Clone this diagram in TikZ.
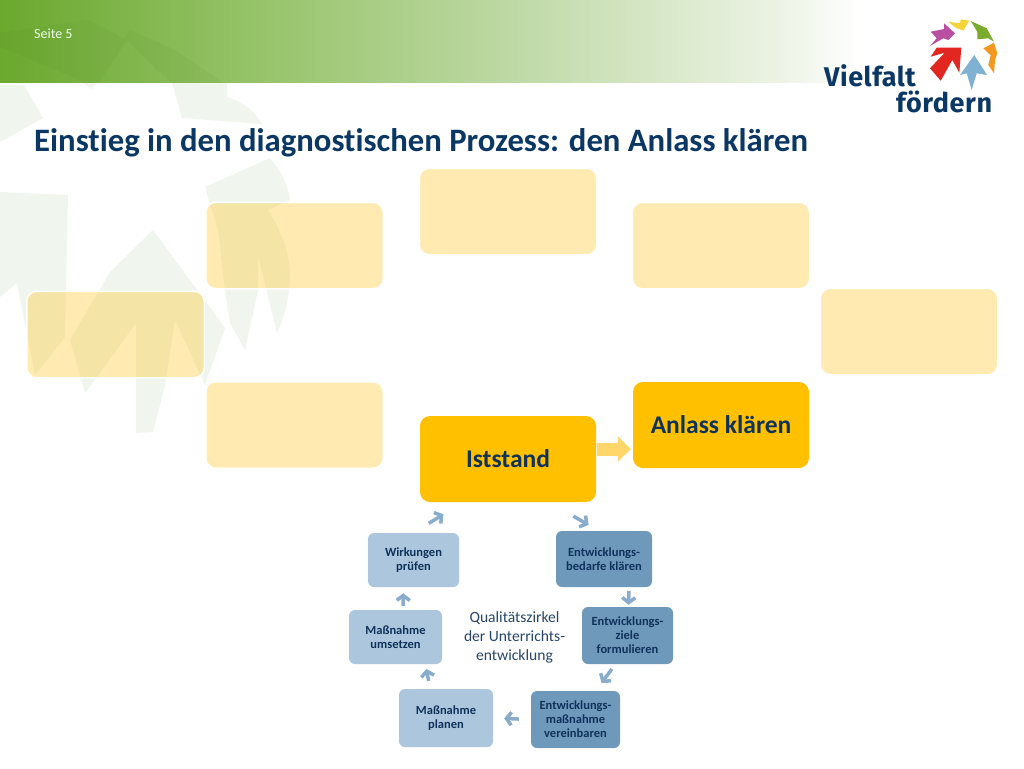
\documentclass[tikz,border=0pt]{standalone}
\usepackage{fontspec}
\setmainfont{Carlito}[Ligatures=NoCommon]
\newfontfamily\logofont[LetterSpace=2]{Fira Sans}
\usetikzlibrary{arrows.meta,calc}
\definecolor{wm}{RGB}{240,245,238}
\definecolor{navy}{RGB}{11,55,100}
\definecolor{amber}{RGB}{255,192,0}
\definecolor{dkblue}{RGB}{111,153,187}
\definecolor{ltblue}{RGB}{172,198,222}
\definecolor{arrowblue}{RGB}{138,172,204}
\definecolor{txt}{RGB}{15,50,90}
\definecolor{hA}{RGB}{107,168,46}
\definecolor{hB}{RGB}{150,195,105}
\definecolor{hC}{RGB}{190,217,165}
\definecolor{hD}{RGB}{236,243,228}
\definecolor{hdark}{RGB}{60,110,20}
\definecolor{lgred}{RGB}{225,39,31}
\definecolor{lgmag}{RGB}{184,79,160}
\definecolor{lgyel}{RGB}{243,213,58}
\definecolor{lggrn}{RGB}{122,171,45}
\definecolor{lgorg}{RGB}{243,154,30}
\definecolor{lgblu}{RGB}{127,178,210}
\definecolor{flowc}{RGB}{255,214,105}
\pgfdeclarehorizontalshading{headerfade}{100bp}{
  color(0bp)=(hA);
  color(25bp)=(hA);
  color(39.9bp)=(hB);
  color(54.8bp)=(hC);
  color(70.3bp)=(hD);
  color(75bp)=(white);
  color(100bp)=(white)}
\tikzset{
  x=1pt,y=-1pt,
  paleb/.style={rounded corners=10pt,minimum width=177.5pt,minimum height=86.5pt,inner sep=0pt,
    fill=amber,fill opacity=.3,draw=white,draw opacity=1,line width=1.5pt},
  mainb/.style={rounded corners=10pt,minimum width=176pt,minimum height=86pt,inner sep=0pt,
    fill=amber,text=txt,font=\fontsize{25.5}{30}\selectfont\bfseries},
  cyc/.style={rounded corners=6pt,inner sep=0pt,align=center,text=txt,
    font=\fontsize{12.5}{14}\selectfont\bfseries},
  dk/.style={cyc,fill=dkblue},
  lt/.style={cyc,fill=ltblue},
  cycarrow/.style={draw=arrowblue,line width=3.5pt,-{Straight Barb[length=5pt,width=13pt,line width=3.5pt]}},
  flowarrow/.style={draw=flowc,line width=13pt,-{Triangle[length=13pt,width=25pt]}},
  logotxt/.style={inner sep=0pt,anchor=base west,text=navy,font=\fontsize{27}{30}\logofont\bfseries}
}
\begin{document}
\begin{tikzpicture}
\useasboundingbox (0,0) rectangle (1024,768);
\fill[white] (0,0) rectangle (1024,768);
% watermark
\fill[wm] (0,85)--(24,85)--(43,118)--(0,142)--cycle;
\fill[wm] (83,83)--(97,83)--(92,89)--cycle;
\fill[wm] (172,83)--(227,83)--(227,97) .. controls (245,103) and (255,112) .. (262,124)--(182,118)--cycle;
\fill[wm] (205,187)--(270,158) .. controls (282,172) and (288,185) .. (290,200)--(268,210) .. controls (282,232) and (290,255) .. (290,275) .. controls (290,295) and (285,315) .. (277,333)--(258,255)--(258,290)--(245,350)--(230,323)--(225,290)--(218,230)--cycle;
\fill[wm] (153,230)--(225,328)--(205,385)--(175,320)--(165,385)--(153,432)--(136,433)--(136,323)--(97,377)--(85,393)--(70,340)--(110,272)--cycle;
\fill[wm] (0,192)--(68,195)--(65,337)--(35,375)--(17,283)--(0,297)--cycle;
% header
\fill[shading=headerfade] (0,0) rectangle (860,82);
\begin{scope}
\clip (0,0) rectangle (1024,82);
\fill[hdark,opacity=.06] (0,33)--(88,20)--(127,40)--(95,88)--(75,78)--(0,47)--cycle;
\fill[hdark,opacity=.06] (130,30)--(175,50)--(225,84)--(172,84)--(125,38)--cycle;
\end{scope}
\node[inner sep=0pt,anchor=base west,text=white!92!green,font=\fontsize{14}{16}\selectfont] (seite) at (34,39) {Seite 5};
\node[inner sep=0pt,anchor=base west,text=navy,font=\fontsize{32.7}{36}\selectfont\bfseries] (title) at (34,151) {Einstieg in den diagnostischen Prozess: den Anlass klären};
% logo
\fill[lgred] (930.7,56.7)--(936.7,47.7)--(961.3,47.7)--(959.3,72.7)--(952.3,60)--(940.7,80.7)--(930,68.3)--(944.7,52.7)--cycle;
\fill[lgblu] (974.3,55)--(960,75)--(966.7,73.3)--(971.7,90)--(976.7,73.3)--(987,75)--cycle;
\fill[lgmag] (930.7,31.7)--(944,29)--(944,23.3)--(955,33.3)--(948.3,40)--(943.3,38.3)--(930,46)--(936.7,38.3)--cycle;
\fill[lgyel] (948.3,21.7)--(960,23.3)--(960.7,19.3)--(969.3,20.7)--(963.3,30.7)--(955,27.3)--cycle;
\fill[lggrn] (970.7,21)--(986.7,28.3)--(994,41.7)--(988.3,38.3)--(977.3,39.3)--(977.3,31.7)--cycle;
\fill[lgorg] (983.3,48.3)--(994,42.7)--(997.3,53.3)--(995,60)--(994,73.3)--(988.3,65)--(990.7,55)--(988.3,53.3)--cycle;
\node[logotxt] (vielfalt) at (824,86) {Vielfalt};
\node[logotxt] (foerdern) at (896,112) {fördern};
% pale boxes
\node[paleb] (p1) at (508,211.5) {};
\node[paleb] (p2) at (294.5,245.5) {};
\node[paleb] (p3) at (721,245.5) {};
\node[paleb] (p4) at (115.5,334.5) {};
\node[paleb] (p5) at (909,331.5) {};
\node[paleb] (p6) at (294.5,425) {};
% main boxes
\node[mainb] (ist) at (508,459) {Iststand};
\node[mainb] (anl) at (721,425) {Anlass klären};
% cycle boxes
\node[dk,minimum width=96pt,minimum height=56pt] (bed) at (604,559) {Entwicklungs-\\bedarfe klären};
\node[dk,minimum width=91pt,minimum height=57pt] (zie) at (627.5,635.5) {Entwicklungs-\\ziele\\formulieren};
\node[dk,minimum width=89pt,minimum height=57pt] (ver) at (575.5,719.5) {Entwicklungs-\\maßnahme\\vereinbaren};
\node[lt,minimum width=94pt,minimum height=58pt] (pla) at (446,718) {Maßnahme\\planen};
\node[lt,minimum width=93pt,minimum height=54pt] (ums) at (395.5,637) {Maßnahme\\umsetzen};
\node[lt,minimum width=91pt,minimum height=54pt] (wir) at (413.5,560) {Wirkungen\\prüfen};
\node[inner sep=0pt,align=center,text=txt!90!white,font=\fontsize{15.6}{19}\selectfont] (center) at (514.5,637) {Qualitätszirkel\\der Unterrichts-\\entwicklung};
% arrows
\draw[flowarrow] ($(ist.east)+(1,-10)$) -- ($(anl.west)+(-2,24)$);
\draw[cycarrow,shorten <=28pt,shorten >=12pt] ($(ist.south)+(41,0)$) -- ($(bed.north)+(-5,0)$);
\draw[cycarrow,shorten <=4pt,shorten >=2pt] ($(bed.south)+(25,0)$) -- ($(zie.north)+(1,0)$);
\draw[cycarrow,shorten <=6pt,shorten >=10pt] ($(zie.south)+(-12,0)$) -- ($(ver.north)+(20,0)$);
\draw[cycarrow,shorten <=12pt,shorten >=11pt] (ver.west) -- (pla.east);
\draw[cycarrow,shorten <=8pt,shorten >=5pt] ($(pla.north)+(-16,0)$) -- ($(ums.south)+(30,0)$);
\draw[cycarrow,shorten <=4pt,shorten >=6pt] ($(ums.north)+(7.5,0)$) -- ($(wir.south)+(-10,0)$);
\draw[cycarrow,shorten <=18pt,shorten >=23pt] (wir.north) -- ($(ist.south)+(-45,0)$);
\end{tikzpicture}
\end{document}
